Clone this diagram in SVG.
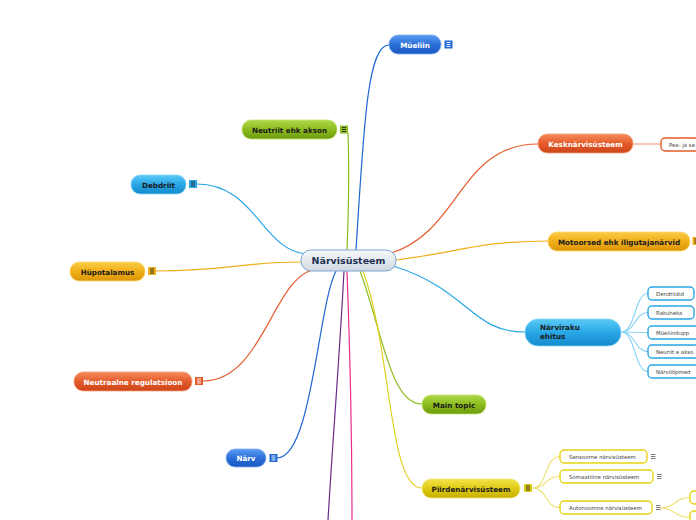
<svg xmlns="http://www.w3.org/2000/svg" width="696" height="520" viewBox="0 0 696 520">
<defs>
<linearGradient id="gBlue" x1="0" y1="0" x2="0" y2="1"><stop offset="0" stop-color="#5b9cf2"/><stop offset="0.5" stop-color="#2c6fd8"/><stop offset="1" stop-color="#1a58c0"/></linearGradient>
<linearGradient id="gGreen" x1="0" y1="0" x2="0" y2="1"><stop offset="0" stop-color="#b0d84a"/><stop offset="0.5" stop-color="#8cbc1e"/><stop offset="1" stop-color="#6e9a0e"/></linearGradient>
<linearGradient id="gCyan" x1="0" y1="0" x2="0" y2="1"><stop offset="0" stop-color="#5ccaf6"/><stop offset="0.5" stop-color="#28a6e6"/><stop offset="1" stop-color="#148acd"/></linearGradient>
<linearGradient id="gOrange" x1="0" y1="0" x2="0" y2="1"><stop offset="0" stop-color="#fbcc48"/><stop offset="0.5" stop-color="#f0ae18"/><stop offset="1" stop-color="#dc960a"/></linearGradient>
<linearGradient id="gRed" x1="0" y1="0" x2="0" y2="1"><stop offset="0" stop-color="#f58a5a"/><stop offset="0.5" stop-color="#e45c2c"/><stop offset="1" stop-color="#cc4518"/></linearGradient>
<linearGradient id="gYellow" x1="0" y1="0" x2="0" y2="1"><stop offset="0" stop-color="#f2e448"/><stop offset="0.5" stop-color="#e0ca14"/><stop offset="1" stop-color="#c6b000"/></linearGradient>
<linearGradient id="gCenter" x1="0" y1="0" x2="0" y2="1"><stop offset="0" stop-color="#f7f9fb"/><stop offset="1" stop-color="#cfd9e3"/></linearGradient>
</defs>
<style>
.t{font-family:"DejaVu Sans",Verdana,sans-serif;font-weight:bold;font-size:7.2px;text-anchor:middle}
.dk{fill:#1c1c1c}
.wh{fill:#ffffff}
.s{font-family:"DejaVu Sans",Verdana,sans-serif;font-size:5.4px;fill:#444}
.c{fill:none;stroke-width:1.2}
.sub{fill:#ffffff;stroke-width:1.4}
.ic{stroke:#ffffff;stroke-width:0.9;fill:none}
.ib{stroke:#2a2a2a;stroke-width:0.9;fill:none}
.ig{stroke:#555;stroke-width:0.8;fill:none}
</style>
<g id="connectors">
<path class="c" stroke="#1f67d2" d="M356,250 C364,120 368,45 389,45"/>
<path class="c" stroke="#8cbc1e" d="M348,133 C349,160 349,200 347,250"/>
<path class="c" stroke="#28a6e6" d="M197,184 C255,184 262,250 306,254"/>
<path class="c" stroke="#f0ae18" d="M156,271 C230,271 240,262 301,262"/>
<path class="c" stroke="#e45c2c" d="M203,381 C262,381 272,282 312,270"/>
<path class="c" stroke="#1f67d2" d="M277,458 C312,458 318,305 336,271"/>
<path class="c" stroke="#6a2a8a" d="M344,271 C340,350 332,450 328,520"/>
<path class="c" stroke="#ea2c8c" d="M347,271 C350,350 352,450 352,520"/>
<path class="c" stroke="#8cbc1e" d="M360,271 C382,330 390,404 422,404"/>
<path class="c" stroke="#e0d020" d="M363,271 C392,350 388,488 422,488"/>
<path class="c" stroke="#28a6e6" d="M393,266 C470,290 470,332 525,332"/>
<path class="c" stroke="#f0ae18" d="M396,260 C460,252 480,241 548,241"/>
<path class="c" stroke="#e45c2c" d="M391,253 C460,232 460,144 538,144"/>
<path class="c" stroke="#f5a585" stroke-width="1" d="M633,144 L661,144"/>
<path class="c" stroke="#8fd6f6" stroke-width="1" d="M621,332 C636,332 634,293.5 648,293.5 M621,332 C636,332 634,312.5 648,312.5 M621,332 C636,332 636,332.5 648,332.5 M621,332 C636,332 634,351.5 648,351.5 M621,332 C636,332 634,371.5 648,371.5"/>
<path class="c" stroke="#f0e27a" stroke-width="1" d="M532,488 C548,488 544,456.5 560,456.5 M532,488 C548,488 544,476.5 560,476.5 M532,488 C548,488 544,507.5 560,507.5"/>
<path class="c" stroke="#f0e27a" stroke-width="1" d="M660,508 C676,508 674,497.5 690,497.5 M660,508 C676,508 674,517.5 690,517.5"/>
</g>
<g id="center">
<rect x="301" y="250" width="95" height="21" rx="10" fill="url(#gCenter)" stroke="#7fa6d0" stroke-width="1"/>
<text x="348.5" y="264" class="t" style="font-size:9.5px;fill:#1d2f50">Närvisüsteem</text>
</g>
<g id="mueliin">
<rect x="389" y="35" width="52" height="19" rx="9" fill="url(#gBlue)" stroke="#7fb0f4" stroke-width="0.8"/>
<text x="415" y="47.5" class="t wh">Müeliin</text>
<rect x="444.5" y="40.5" width="8" height="8" fill="#1f67d2"/>
<path class="ic" d="M446.5,42.5h4M446.5,44.5h4M446.5,46.5h4"/>
</g>
<g id="neutriit">
<rect x="242" y="120" width="95" height="19" rx="9" fill="url(#gGreen)" stroke="#c2e270" stroke-width="0.8"/>
<text x="289.5" y="132.5" class="t dk">Neutriit ehk akson</text>
<rect x="340" y="125.5" width="8" height="8" fill="#8cbc1e"/>
<path class="ib" d="M342,127.5h4M342,129.5h4M342,131.5h4"/>
</g>
<g id="debdriit">
<rect x="131" y="175" width="55" height="19" rx="9" fill="url(#gCyan)" stroke="#84d6f8" stroke-width="0.8"/>
<text x="158.5" y="187.5" class="t dk">Debdriit</text>
<rect x="189" y="180" width="8" height="8" fill="#28a6e6"/>
<path class="ib" d="M191,182h4M191,184h4M191,186h4"/>
</g>
<g id="hupotalamus">
<rect x="70" y="262" width="75" height="19" rx="9" fill="url(#gOrange)" stroke="#fcd870" stroke-width="0.8"/>
<text x="107.5" y="274.5" class="t dk">Hüpotalamus</text>
<rect x="148" y="267" width="8" height="8" fill="#f0ae18"/>
<path class="ib" d="M150,269h4M150,271h4M150,273h4"/>
</g>
<g id="neutraalne">
<rect x="74" y="372" width="118" height="19" rx="9" fill="url(#gRed)" stroke="#f8a27c" stroke-width="0.8"/>
<text x="133" y="384.5" class="t wh">Neutraalne regulatsioon</text>
<rect x="195" y="377" width="8" height="8" fill="#e45c2c"/>
<path class="ic" d="M197,379h4M197,381h4M197,383h4"/>
</g>
<g id="narv">
<rect x="226" y="449" width="40" height="18" rx="9" fill="url(#gBlue)" stroke="#7fb0f4" stroke-width="0.8"/>
<text x="246" y="461" class="t wh">Närv</text>
<rect x="269.5" y="454" width="8" height="8" fill="#1f67d2"/>
<path class="ic" d="M271.5,456h4M271.5,458h4M271.5,460h4"/>
</g>
<g id="kesknarvisusteem">
<rect x="538" y="134" width="95" height="19" rx="9" fill="url(#gRed)" stroke="#f8a27c" stroke-width="0.8"/>
<text x="585.5" y="146.5" class="t wh">Kesknärvisüsteem</text>
</g>
<g id="pea">
<rect x="661" y="138" width="50" height="13" rx="4" class="sub" stroke="#e45c2c"/>
<text x="669" y="146.5" class="s">Pea- ja se</text>
</g>
<g id="motoorsed">
<rect x="548" y="232" width="142" height="19" rx="9" fill="url(#gOrange)" stroke="#fcd870" stroke-width="0.8"/>
<text x="619" y="244.5" class="t dk">Motoorsed ehk iligutajanärvid</text>
<rect x="692.5" y="237" width="8" height="8" fill="#f0ae18"/>
<path class="ib" d="M694.5,239h4M694.5,241h4M694.5,243h4"/>
</g>
<g id="narviraku">
<rect x="525" y="319" width="96" height="27" rx="13" fill="url(#gCyan)" stroke="#84d6f8" stroke-width="0.8"/>
<text x="540" y="330" class="t dk" style="text-anchor:start">Närviraku</text>
<text x="540" y="339" class="t dk" style="text-anchor:start">ehitus</text>
</g>
<g id="dendriidid"><rect x="648" y="287" width="46" height="13" rx="4" class="sub" stroke="#28a6e6"/><text x="656" y="295.5" class="s">Dendriidid</text></g>
<g id="rakuheka"><rect x="648" y="306" width="46" height="13" rx="4" class="sub" stroke="#28a6e6"/><text x="656" y="314.5" class="s">Rakuheka</text></g>
<g id="mueliinitupp"><rect x="648" y="326" width="56" height="13" rx="4" class="sub" stroke="#28a6e6"/><text x="656" y="334.5" class="s">Müeliinitupp</text></g>
<g id="neuriit"><rect x="648" y="345" width="56" height="13" rx="4" class="sub" stroke="#28a6e6"/><text x="656" y="353.5" class="s">Neuriit e akso</text></g>
<g id="narvilopmed"><rect x="648" y="365" width="56" height="13" rx="4" class="sub" stroke="#28a6e6"/><text x="656" y="373.5" class="s">Närvilõpmed</text></g>
<g id="maintopic">
<rect x="422" y="395" width="64" height="19" rx="9" fill="url(#gGreen)" stroke="#c2e270" stroke-width="0.8"/>
<text x="454" y="407.5" class="t dk">Main topic</text>
</g>
<g id="piirdenarvisusteem">
<rect x="422" y="479" width="98" height="19" rx="9" fill="url(#gYellow)" stroke="#f4ea80" stroke-width="0.8"/>
<text x="471" y="491.5" class="t dk">Piirdenärvisüsteem</text>
<rect x="524" y="484" width="8" height="8" fill="#e0ca14"/>
<path class="ib" d="M526,486h4M526,488h4M526,490h4"/>
</g>
<g id="sensoorne"><rect x="560" y="450" width="87" height="13" rx="4" class="sub" stroke="#e8d410"/><text x="569" y="458.5" class="s">Sensoorne närvisüsteem</text><path class="ig" d="M651,454.5h4.5M651,456.5h4.5M651,458.5h4.5"/></g>
<g id="somaatiline"><rect x="560" y="470" width="93" height="13" rx="4" class="sub" stroke="#e8d410"/><text x="569" y="478.5" class="s">Somaatiline närvisüsteem</text><path class="ig" d="M657,474.5h4.5M657,476.5h4.5M657,478.5h4.5"/></g>
<g id="autonoomne"><rect x="560" y="501" width="92" height="13" rx="4" class="sub" stroke="#e8d410"/><text x="569" y="509.5" class="s">Autonoomne närvisüsteem</text><path class="ig" d="M656,505.5h4.5M656,507.5h4.5M656,509.5h4.5"/></g>
<g id="auto1"><rect x="690" y="491" width="20" height="13" rx="4" class="sub" stroke="#e8d410"/></g>
<g id="auto2"><rect x="690" y="511" width="20" height="13" rx="4" class="sub" stroke="#e8d410"/></g>
</svg>
